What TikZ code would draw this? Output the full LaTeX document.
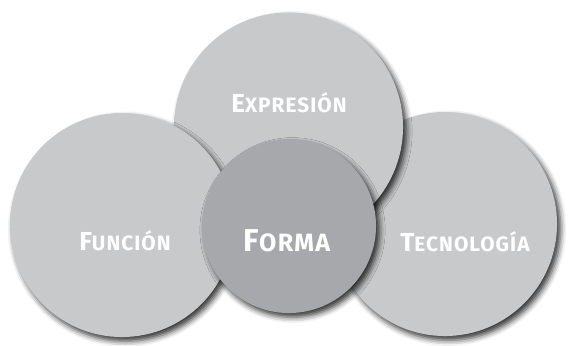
\documentclass[tikz,border=0pt]{standalone}
\usepackage{fontspec}
\setmainfont{Fira Sans}[LetterSpace=5]
\usetikzlibrary{shadows.blur}
\definecolor{discgray}{RGB}{200,201,203}
\definecolor{formagray}{RGB}{167,168,171}
% versalitas hechas a mano
\newcommand{\versal}[2]{{\fontsize{18.5}{21}\selectfont #1}{\fontsize{14.8}{17}\selectfont #2}}
\newcommand{\versalbig}[2]{{\fontsize{22.5}{26}\selectfont #1}{\fontsize{17.8}{21}\selectfont #2}}
\tikzset{
	disc/.style={circle,fill=discgray,inner sep=0pt,minimum size=#1,
		blur shadow={shadow xshift=2.5pt,shadow yshift=-3pt,shadow blur radius=4pt,shadow opacity=80}},
	lbl/.style={text=white,font=\bfseries,inner sep=0pt}
}
\begin{document}
\begin{tikzpicture}[x=0.025cm,y=-0.025cm]
	\useasboundingbox (0,0) rectangle (569,345);
	\node[disc=5.6cm] (T) at (445,224) {};
	\node[disc=5.725cm] (E) at (288.5,127) {};
	\node[disc=5.6cm] (F) at (122,225) {};
	\node[disc=4.35cm,fill=formagray] (O) at (289,226) {};
	\node[lbl] (Etext) at (289,103) {\versal{E}{XPRESIÓN}};
	\node[lbl] (Ftext) at (125,241) {\versal{F}{UNCIÓN}};
	\node[lbl] (Ttext) at (465,242) {\versal{T}{ECNOLOGÍA}};
	\node[lbl] (Otext) at (287,241) {\versalbig{F}{ORMA}};
\end{tikzpicture}
\end{document}
